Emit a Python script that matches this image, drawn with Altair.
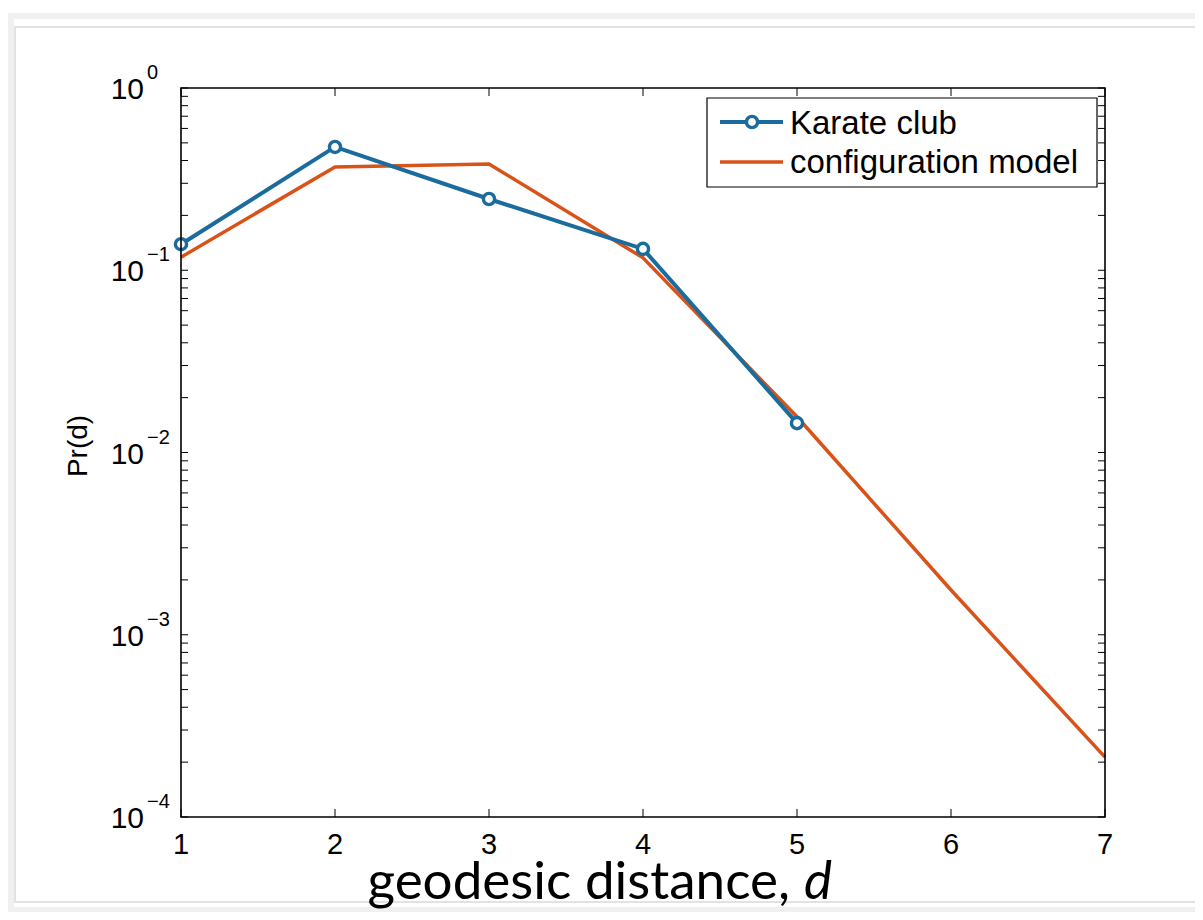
import altair as alt
import pandas as pd

# ---- data ----
d_karate = [1, 2, 3, 4, 5]
p_karate = [0.139, 0.475, 0.246, 0.131, 0.0145]

d_config = [1, 2, 3, 4, 5, 6, 7]
p_config = [0.118, 0.369, 0.383, 0.117, 0.0157, 0.00176, 0.000213]

x_ticks = [1, 2, 3, 4, 5, 6, 7]
x_tick_labels = ["1", "2", "3", "4", "5", "6", "7"]
y_major = [1e-4, 1e-3, 1e-2, 1e-1, 1e0]
y_exponents = ["\u22124", "\u22123", "\u22122", "\u22121", "0"]
y_minor = [m * 10.0 ** e for e in [-4, -3, -2, -1] for m in range(2, 10)]

legend_labels = ["Karate club", "configuration model"]

BLUE = "#1b6c9c"
ORANGE = "#d95319"
FONT = "Liberation Sans"

W, H = 924, 729

xscale = alt.Scale(domain=[1, 7], nice=False, zero=False)
yscale = alt.Scale(type="log", domain=[1e-4, 1], nice=False)

karate = pd.DataFrame({"d": d_karate, "p": p_karate})
config = pd.DataFrame({"d": d_config, "p": p_config})
xt = pd.DataFrame({"d": x_ticks, "lab": x_tick_labels})
ymaj = pd.DataFrame({"v": y_major, "exp": y_exponents})
yall = pd.DataFrame({"v": y_major + y_minor})
one = pd.DataFrame({"k": [0]})

XN = alt.X("d:Q", scale=xscale, axis=None)

# slide frame behind everything
frame_outer = alt.Chart(one).mark_rect(fill=None, stroke="#f0f0f0", strokeWidth=6).encode(
    x=alt.value(-170), x2=alt.value(1120), y=alt.value(-72), y2=alt.value(822))
frame = alt.Chart(one).mark_rect(fill=None, stroke="#e2e2e2", strokeWidth=2).encode(
    x=alt.value(-166), x2=alt.value(1110), y=alt.value(-61), y2=alt.value(814))

# plot box
box = alt.Chart(one).mark_rect(fill=None, stroke="black", strokeWidth=1.6).encode(
    x=alt.value(0), x2=alt.value(W), y=alt.value(0), y2=alt.value(H))

config_line = alt.Chart(config).mark_line(color=ORANGE, strokeWidth=3.5).encode(
    x=XN, y=alt.Y("p:Q", scale=yscale, axis=None))

karate_line = alt.Chart(karate).mark_line(color=BLUE, strokeWidth=4).encode(
    x=XN, y=alt.Y("p:Q", scale=yscale, axis=None))
karate_pts = alt.Chart(karate).mark_point(
    shape="circle", filled=True, fill="white", stroke=BLUE, strokeWidth=3.4, size=125, opacity=1
).encode(x=XN, y=alt.Y("p:Q", scale=yscale, axis=None))

# inward ticks (MATLAB style) on all four sides
xtick_bottom = alt.Chart(xt).mark_rule(color="black", strokeWidth=1).encode(
    x=XN, y=alt.value(H), y2=alt.value(H - 8))
xtick_top = alt.Chart(xt).mark_rule(color="black", strokeWidth=1).encode(
    x=XN, y=alt.value(0), y2=alt.value(8))
ytick_left = alt.Chart(yall).mark_rule(color="black", strokeWidth=1).encode(
    y=alt.Y("v:Q", scale=yscale, axis=None), x=alt.value(0), x2=alt.value(7))
ytick_right = alt.Chart(yall).mark_rule(color="black", strokeWidth=1).encode(
    y=alt.Y("v:Q", scale=yscale, axis=None), x=alt.value(W), x2=alt.value(W - 7))

# x tick labels
xlab = alt.Chart(xt).mark_text(
    font=FONT, fontSize=29, align="center", baseline="alphabetic", color="black"
).encode(x=XN, y=alt.value(766), text="lab:N")

# y tick labels: 10 with superscript exponent
ylab_base = alt.Chart(ymaj).mark_text(
    text="10", font=FONT, fontSize=30, align="right", baseline="middle", dy=2, color="black"
).encode(y=alt.Y("v:Q", scale=yscale, axis=None), x=alt.value(-37))
ylab_exp = alt.Chart(ymaj).mark_text(
    font=FONT, fontSize=20, align="left", baseline="middle", dy=-15, color="black"
).encode(y=alt.Y("v:Q", scale=yscale, axis=None), x=alt.value(-34), text="exp:N")

# axis titles
ytitle = alt.Chart(one).mark_text(
    text="Pr(d)", font=FONT, fontSize=28, angle=270, align="center", baseline="middle", color="black"
).encode(x=alt.value(-102), y=alt.value(358))
xtitle_main = alt.Chart(one).mark_text(
    text="geodesic distance,", font="Lato", fontSize=53, align="right", baseline="alphabetic",
    color="black"
).encode(x=alt.value(609), y=alt.value(811))
xtitle_d = alt.Chart(one).mark_text(
    text="d", font="Lato", fontSize=53, fontStyle="italic", align="left", baseline="alphabetic",
    color="black"
).encode(x=alt.value(623), y=alt.value(811))

# legend
leg_box = alt.Chart(one).mark_rect(fill="white", stroke="black", strokeWidth=1.2).encode(
    x=alt.value(526), x2=alt.value(916), y=alt.value(10), y2=alt.value(99))
leg_blue = alt.Chart(one).mark_rule(color=BLUE, strokeWidth=4).encode(
    x=alt.value(539), x2=alt.value(602), y=alt.value(34))
leg_blue_pt = alt.Chart(one).mark_point(
    shape="circle", filled=True, fill="white", stroke=BLUE, strokeWidth=3.4, size=125, opacity=1
).encode(x=alt.value(571), y=alt.value(34))
leg_orange = alt.Chart(one).mark_rule(color=ORANGE, strokeWidth=3.5).encode(
    x=alt.value(539), x2=alt.value(602), y=alt.value(74))
leg_t1 = alt.Chart(one).mark_text(
    text=legend_labels[0], font=FONT, fontSize=33, align="left", baseline="alphabetic", color="black"
).encode(x=alt.value(609), y=alt.value(46))
leg_t2 = alt.Chart(one).mark_text(
    text=legend_labels[1], font=FONT, fontSize=33, align="left", baseline="alphabetic", color="black"
).encode(x=alt.value(609), y=alt.value(85))

chart = alt.layer(
    frame_outer, frame,
    config_line, karate_line, karate_pts,
    box, xtick_bottom, xtick_top, ytick_left, ytick_right,
    xlab, ylab_base, ylab_exp, ytitle, xtitle_main, xtitle_d,
    leg_box, leg_blue, leg_blue_pt, leg_orange, leg_t1, leg_t2,
).properties(
    width=W, height=H,
    background="white",
    autosize=alt.AutoSizeParams(type="none"),
    padding={"left": 173, "top": 80, "right": 90, "bottom": 95},
).configure_view(stroke=None)

chart.save("out.html", embed_options={"renderer": "svg", "actions": False})
